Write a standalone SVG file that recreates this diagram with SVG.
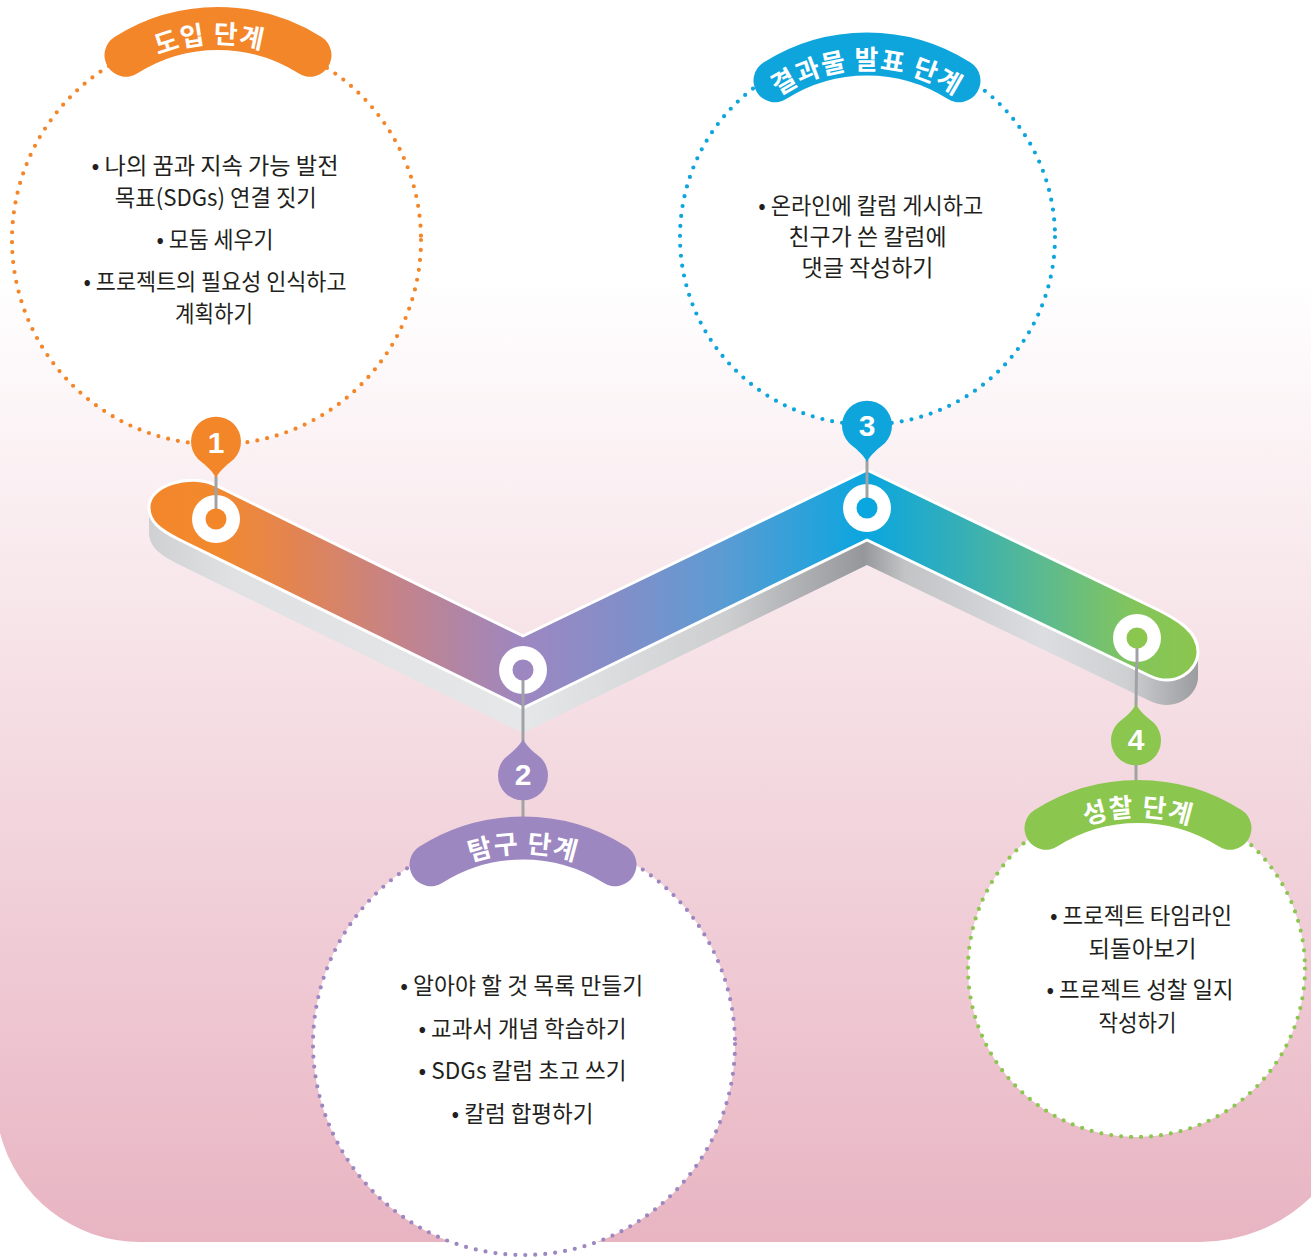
<svg xmlns="http://www.w3.org/2000/svg" width="1311" height="1258" viewBox="0 0 1311 1258">
<defs>
<linearGradient id="bg" x1="0" y1="280" x2="0" y2="1242" gradientUnits="userSpaceOnUse">
<stop offset="0" stop-color="#ffffff"/>
<stop offset="1" stop-color="#e8b4c2"/>
</linearGradient>
<linearGradient id="topg" x1="148" y1="0" x2="1198" y2="0" gradientUnits="userSpaceOnUse">
<stop offset="0" stop-color="#f4862a"/>
<stop offset="0.065" stop-color="#f2892e"/>
<stop offset="0.145" stop-color="#e18455"/>
<stop offset="0.24" stop-color="#c4838a"/>
<stop offset="0.357" stop-color="#9d87c1"/>
<stop offset="0.45" stop-color="#838ec8"/>
<stop offset="0.545" stop-color="#5d9bd3"/>
<stop offset="0.685" stop-color="#0aa6df"/>
<stop offset="0.773" stop-color="#35afb7"/>
<stop offset="0.859" stop-color="#5fbb8c"/>
<stop offset="0.942" stop-color="#84c55a"/>
<stop offset="1" stop-color="#8bc64e"/>
</linearGradient>
<linearGradient id="sideg" x1="148" y1="0" x2="1200" y2="0" gradientUnits="userSpaceOnUse">
<stop offset="0" stop-color="#cfd0d2"/>
<stop offset="0.08" stop-color="#e0e1e3"/>
<stop offset="0.357" stop-color="#e6e7e8"/>
<stop offset="0.55" stop-color="#cdced0"/>
<stop offset="0.68" stop-color="#96979a"/>
<stop offset="0.72" stop-color="#c3c4c6"/>
<stop offset="0.85" stop-color="#dcdde0"/>
<stop offset="0.93" stop-color="#cfd0d2"/>
<stop offset="1" stop-color="#9a9b9e"/>
</linearGradient>
<path id="tp1" d="M 97.7,99.6 A 157 157 0 0 1 338.3,99.6"/>
<path id="tp3" d="M 746.7,125.1 A 157 157 0 0 1 987.3,125.1"/>
<path id="tp2" d="M 402.7,909.1 A 157 157 0 0 1 643.3,909.1"/>
<path id="tp4" d="M 1017.7,872.6 A 157 157 0 0 1 1258.3,872.6"/>
<path id="pinDown" d="M 0,36 C -4,28 -12,22 -18,17 A 25 25 0 1 1 18,17 C 12,22 4,28 0,36 Z"/>
<path id="pinUp" d="M 0,-36 C -4,-28 -12,-22 -18,-17 A 25 25 0 1 0 18,-17 C 12,-22 4,-28 0,-36 Z"/>
</defs>
<style>
.dot{fill:#ffffff;stroke-width:4.2;stroke-linecap:round;stroke-dasharray:0 10}
.body{font-family:"Noto Sans CJK KR","Noto Sans",sans-serif;font-size:23px;fill:#231f20;text-anchor:middle}
.ban{fill:none;stroke-width:43;stroke-linecap:round}
.bt{font-family:"Noto Sans CJK KR",sans-serif;font-size:26px;font-weight:700;fill:#ffffff;letter-spacing:1px}
.num{font-family:"Liberation Sans",Arial,sans-serif;font-weight:700;font-size:30px;fill:#ffffff;text-anchor:middle}
.stem{stroke:#a1a2a5;stroke-width:3;fill:none}
.ring{fill:#ffffff}
</style>

<path d="M 0,0 L 1311,0 L 1311,1197 A 159 159 0 0 1 1200,1242 L 140,1242 A 144.4 144.4 0 0 1 0,1133 Z" fill="url(#bg)"/>

<g id="band">
<path d="M 149,507 C 149,522 160,530 180,540 L 523,708 L 867,540 L 1150,676 C 1176,688 1198,670 1198,652 L 1198,677 C 1198,695 1176,713 1150,701 L 867,565 L 523,733 L 180,565 C 160,555 149,547 149,532 Z" fill="url(#sideg)"/>
<path d="M 215,485 L 523,636 L 867,470 L 1150,606 C 1180,620 1198,632 1198,652 C 1198,670 1176,688 1150,676 L 867,540 L 523,708 L 180,540 C 160,530 149,522 149,507 C 149,485 190,473 215,485 Z" fill="url(#topg)" stroke="#ffffff" stroke-width="3" stroke-linejoin="round"/>
</g>

<g id="connectors">
<line class="stem" x1="216" y1="476" x2="216" y2="519"/>
<line class="stem" x1="867" y1="460" x2="867" y2="508"/>
<line class="stem" x1="523" y1="670" x2="523" y2="742"/>
<line class="stem" x1="523" y1="798" x2="523" y2="822"/>
<line class="stem" x1="1137" y1="638" x2="1136" y2="707"/>
<line class="stem" x1="1136" y1="763" x2="1136" y2="785"/>
</g>

<g id="node1">
<circle class="dot" cx="216.5" cy="240" r="204.5" stroke="#f4862a"/>
<path class="ban" d="M 126,55.2 A 172 172 0 0 1 310,55.2" stroke="#f4862a"/>
<text class="bt"><textPath href="#tp1" startOffset="47%" text-anchor="middle">도입 단계</textPath></text>
<text class="body" x="215" y="174" textLength="247" lengthAdjust="spacingAndGlyphs">• 나의 꿈과 지속 가능 발전</text>
<text class="body" x="215.8" y="206" textLength="202" lengthAdjust="spacingAndGlyphs">목표(SDGs) 연결 짓기</text>
<text class="body" x="215" y="248" textLength="117" lengthAdjust="spacingAndGlyphs">• 모둠 세우기</text>
<text class="body" x="215" y="290" textLength="263" lengthAdjust="spacingAndGlyphs">• 프로젝트의 필요성 인식하고</text>
<text class="body" x="214" y="322" textLength="78" lengthAdjust="spacingAndGlyphs">계획하기</text>
<use href="#pinDown" x="216" y="442" fill="#f4862a"/>
<text class="num" x="216" y="452.5">1</text>
<circle class="ring" cx="216" cy="519" r="24"/>
<line class="stem" x1="216" y1="495" x2="216" y2="519"/>
<circle cx="216" cy="519" r="10.5" fill="#f4862a"/>
</g>

<g id="node2">
<circle class="dot" cx="524" cy="1044" r="211" stroke="#9d87c1"/>
<path class="ban" d="M 431,864.7 A 172 172 0 0 1 615,864.7" stroke="#9d87c1"/>
<text class="bt"><textPath href="#tp2" startOffset="50%" text-anchor="middle">탐구 단계</textPath></text>
<text class="body" x="521.7" y="994" textLength="243" lengthAdjust="spacingAndGlyphs">• 알아야 할 것 목록 만들기</text>
<text class="body" x="522.5" y="1037" textLength="208" lengthAdjust="spacingAndGlyphs">• 교과서 개념 학습하기</text>
<text class="body" x="522.5" y="1079" textLength="208" lengthAdjust="spacingAndGlyphs">• SDGs 칼럼 초고 쓰기</text>
<text class="body" x="522.5" y="1122" textLength="142" lengthAdjust="spacingAndGlyphs">• 칼럼 합평하기</text>
<use href="#pinUp" x="523" y="775" fill="#9d87c1"/>
<text class="num" x="523" y="784.5">2</text>
<circle class="ring" cx="523" cy="670" r="24"/>
<line class="stem" x1="523" y1="670" x2="523" y2="694"/>
<circle cx="523" cy="670" r="10.5" fill="#9d87c1"/>
</g>

<g id="node3">
<circle class="dot" cx="867.5" cy="237" r="187.5" stroke="#0ea5dd"/>
<path class="ban" d="M 775,80.7 A 172 172 0 0 1 959,80.7" stroke="#0ea5dd"/>
<text class="bt"><textPath href="#tp3" startOffset="50%" text-anchor="middle">결과물 발표 단계</textPath></text>
<text class="body" x="870.8" y="214" textLength="225" lengthAdjust="spacingAndGlyphs">• 온라인에 칼럼 게시하고</text>
<text class="body" x="867.5" y="245" textLength="158" lengthAdjust="spacingAndGlyphs">친구가 쓴 칼럼에</text>
<text class="body" x="867.5" y="276" textLength="132" lengthAdjust="spacingAndGlyphs">댓글 작성하기</text>
<use href="#pinDown" x="867" y="426" fill="#0ea5dd"/>
<text class="num" x="867" y="435.5">3</text>
<circle class="ring" cx="867" cy="508" r="24"/>
<line class="stem" x1="867" y1="484" x2="867" y2="508"/>
<circle cx="867" cy="508" r="10.5" fill="#0aa6df"/>
</g>

<g id="node4">
<circle class="dot" cx="1136.5" cy="968.5" r="168.5" stroke="#8bc64e"/>
<path class="ban" d="M 1046,828.2 A 172 172 0 0 1 1230,828.2" stroke="#8bc64e"/>
<text class="bt"><textPath href="#tp4" startOffset="50%" text-anchor="middle">성찰 단계</textPath></text>
<text class="body" x="1141" y="924" textLength="182" lengthAdjust="spacingAndGlyphs">• 프로젝트 타임라인</text>
<text class="body" x="1142.5" y="957" textLength="108" lengthAdjust="spacingAndGlyphs">되돌아보기</text>
<text class="body" x="1140" y="998" textLength="187" lengthAdjust="spacingAndGlyphs">• 프로젝트 성찰 일지</text>
<text class="body" x="1137.5" y="1031" textLength="78" lengthAdjust="spacingAndGlyphs">작성하기</text>
<use href="#pinUp" x="1136" y="740" fill="#8bc64e"/>
<text class="num" x="1136" y="749.5">4</text>
<circle class="ring" cx="1137" cy="638" r="24"/>
<line class="stem" x1="1137" y1="638" x2="1137" y2="662"/>
<circle cx="1137" cy="638" r="10.5" fill="#8bc64e"/>
</g>
</svg>
